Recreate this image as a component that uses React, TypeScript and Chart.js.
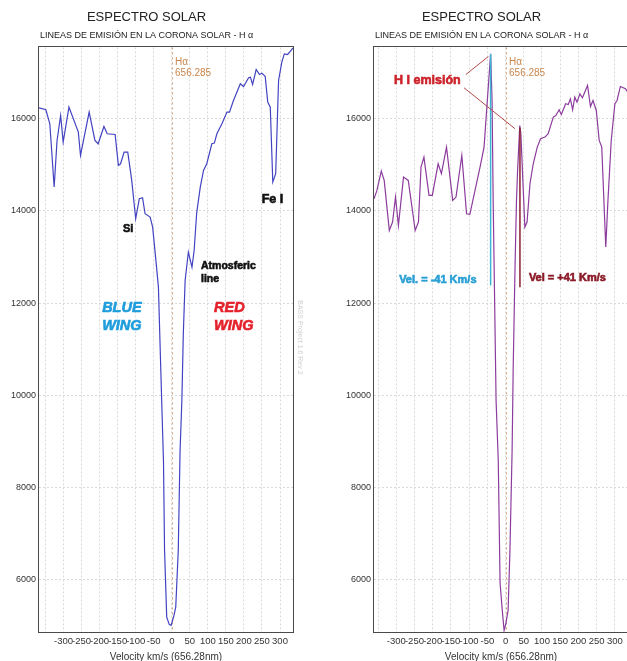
import React, { useEffect, useRef } from "react";
import { Chart, registerables } from "chart.js";

Chart.register(...registerables);

const F = "'Liberation Sans', Arial, sans-serif";

// ---- Data: left panel (solar spectrum, H-alpha absorption) ----
const leftVelocity = [
  -368, -349, -338, -326, -318, -308, -301, -285, -259, -253, -229, -213, -204, -188, -179, -157,
  -148, -142, -132, -122, -111, -100, -90, -81, -74, -60, -53, -44, -37, -28, -23, -20, -14, -7, -2,
  5, 11, 18, 23, 28, 32, 37, 46, 56, 62, 69, 79, 88, 97, 111, 118, 125, 139, 153, 160, 171, 190, 199,
  213, 218, 224, 234, 243, 250, 259, 266, 273, 280, 288, 296, 305, 312, 321, 329, 336,
];
const leftIntensity = [
  16231, 16188, 15884, 14513, 15523, 16065, 15487, 16245, 15704, 15199, 16137, 15523, 15451, 15827,
  15668, 15653, 14982, 15018, 15271, 15271, 14657, 13827, 14260, 14282, 13935, 13862, 13645, 12923,
  12344, 9889, 8589, 6638, 5193, 5035, 5013, 5193, 5410, 6638, 8806, 9889, 11336, 12489, 13103, 12778,
  13139, 13950, 14513, 14874, 15018, 15451, 15466, 15668, 15884, 16137, 16137, 16390, 16751, 16693,
  16881, 16895, 16736, 17061, 16953, 16982, 16910, 16354, 16245, 14621, 14802, 16823, 17220, 17400,
  17386, 17458, 17531,
];

// ---- Data: right panel (corona, H I emission) ----
const rightVelocity = [
  -361, -353, -341, -333, -319, -310, -302, -294, -280, -267, -248, -239, -232, -224, -210, -201,
  -185, -176, -162, -145, -136, -120, -107, -98, -70, -59, -41, -37, -34, -26, -20, -15, -9, -4, 1, 7,
  12, 18, 21, 26, 30, 33, 39, 42, 53, 59, 67, 76, 87, 96, 108, 117, 131, 138, 147, 153, 165, 172, 178,
  184, 190, 196, 204, 211, 225, 233, 240, 249, 257, 264, 275, 281, 290, 300, 306, 315, 329, 336,
];
const rightIntensity = [
  14260, 14441, 14859, 14657, 13574, 13755, 14296, 13682, 14729, 14657, 13574, 13755, 14946, 15163,
  14332, 14332, 15018, 14802, 15379, 14224, 14296, 15199, 13935, 13921, 14946, 15379, 17401, 16390,
  14223, 9889, 8589, 5928, 5338, 4905, 5057, 5338, 6638, 8806, 10611, 12778, 14223, 14874, 15848,
  15668, 13646, 13755, 14585, 15018, 15379, 15560, 15596, 15668, 16029, 16065, 16188, 16087, 16318,
  16303, 16426, 16188, 16462, 16354, 16534, 16448, 16715, 16260, 16390, 16173, 15523, 15379, 13212,
  14224, 15523, 16318, 16390, 16693, 16643, 16560,
];

// ---- Tick labels ----
const xTicks = [-350, -300, -250, -200, -150, -100, -50, 0, 50, 100, 150, 200, 250, 300];
const yTicks = [6000, 8000, 10000, 12000, 14000, 16000];

const TITLE = "ESPECTRO SOLAR";
const SUBTITLE = "LINEAS DE EMISIÓN EN LA CORONA SOLAR - H α";
const X_TITLE = "Velocity km/s (656.28nm)";
const WATERMARK = "BASS Project 1.6 Rev 2";

type Note = {
  text: string;
  x: number;
  y: number;
  color: string;
  font: string;
  align: CanvasTextAlign;
  heavy?: boolean;
};
type Seg = { x1: number; y1: number; x2: number; y2: number; color: string; width: number };

const HA = "#c9874b";

const leftNotes: Note[] = [
  { text: "Hα", x: 9, y: 17220, color: HA, font: `10px ${F}`, align: "left" },
  { text: "656.285", x: 9, y: 16986, color: HA, font: `10px ${F}`, align: "left" },
  { text: "Si", x: -121, y: 13595, color: "#111", font: `bold 11px ${F}`, align: "center", heavy: true },
  { text: "Fe I", x: 279, y: 14245, color: "#111", font: `bold 12.5px ${F}`, align: "center", heavy: true },
  { text: "Atmosferic", x: 81, y: 12793, color: "#111", font: `bold 10.5px ${F}`, align: "left", heavy: true },
  { text: "line", x: 81, y: 12511, color: "#111", font: `bold 10.5px ${F}`, align: "left", heavy: true },
  { text: "BLUE", x: -193, y: 11894, color: "#1f9ddc", font: `italic bold 14.5px ${F}`, align: "left", heavy: true },
  { text: "WING", x: -193, y: 11493, color: "#1f9ddc", font: `italic bold 14.5px ${F}`, align: "left", heavy: true },
  { text: "RED", x: 117, y: 11894, color: "#e4222c", font: `italic bold 14.5px ${F}`, align: "left", heavy: true },
  { text: "WING", x: 117, y: 11493, color: "#e4222c", font: `italic bold 14.5px ${F}`, align: "left", heavy: true },
];

const rightNotes: Note[] = [
  { text: "Hα", x: 9.5, y: 17220, color: HA, font: `10px ${F}`, align: "left" },
  { text: "656.285", x: 9.5, y: 16986, color: HA, font: `10px ${F}`, align: "left" },
  { text: "H I emisión", x: -306, y: 16823, color: "#cc2229", font: `bold 12.5px ${F}`, align: "left", heavy: true },
  { text: "Vel. = -41 Km/s", x: -292, y: 12490, color: "#2aa0d4", font: `bold 11px ${F}`, align: "left", heavy: true },
  { text: "Vel = +41 Km/s", x: 64, y: 12533, color: "#8b1a28", font: `bold 11px ${F}`, align: "left", heavy: true },
];

const rightSegs: Seg[] = [
  { x1: -41, y1: 17400, x2: -41, y2: 12381, color: "#3cb4d4", width: 1.5 },
  { x1: 39.5, y1: 15800, x2: 39.5, y2: 12344, color: "#8b2030", width: 1.5 },
  { x1: -109, y1: 16953, x2: -47, y2: 17343, color: "#b04a4a", width: 1 },
  { x1: -114, y1: 16665, x2: 26, y2: 15777, color: "#b04a4a", width: 1 },
];

function makeDecor(notes: Note[], segs: Seg[], watermark: boolean) {
  return {
    id: "decor",
    beforeDatasetsDraw(chart: any) {
      const { ctx, chartArea, scales } = chart;
      const x0 = Math.round(scales.x.getPixelForValue(0)) + 0.5;
      ctx.save();
      ctx.strokeStyle = "#d4a27a";
      ctx.lineWidth = 1;
      ctx.setLineDash([2, 3]);
      ctx.beginPath();
      ctx.moveTo(x0, chartArea.top);
      ctx.lineTo(x0, chartArea.bottom);
      ctx.stroke();
      ctx.restore();
    },
    afterDatasetsDraw(chart: any) {
      const { ctx, chartArea, scales } = chart;
      ctx.save();
      for (const s of segs) {
        ctx.strokeStyle = s.color;
        ctx.lineWidth = s.width;
        ctx.beginPath();
        ctx.moveTo(scales.x.getPixelForValue(s.x1), scales.y.getPixelForValue(s.y1));
        ctx.lineTo(scales.x.getPixelForValue(s.x2), scales.y.getPixelForValue(s.y2));
        ctx.stroke();
      }
      ctx.textBaseline = "middle";
      for (const n of notes) {
        ctx.font = n.font;
        ctx.fillStyle = n.color;
        ctx.textAlign = n.align;
        const px = scales.x.getPixelForValue(n.x);
        const py = scales.y.getPixelForValue(n.y);
        ctx.fillText(n.text, px, py);
        if (n.heavy) {
          ctx.strokeStyle = n.color;
          ctx.lineWidth = 0.6;
          ctx.strokeText(n.text, px, py);
        }
      }
      // frame
      ctx.strokeStyle = "#4a4a4a";
      ctx.lineWidth = 1;
      ctx.strokeRect(
        Math.round(chartArea.left) - 0.5,
        Math.round(chartArea.top) - 0.5,
        Math.round(chartArea.right - chartArea.left) + 1,
        Math.round(chartArea.bottom - chartArea.top) + 1
      );
      if (watermark) {
        ctx.save();
        ctx.translate(chartArea.right + 7, scales.y.getPixelForValue(11254));
        ctx.rotate(Math.PI / 2);
        ctx.font = `7px ${F}`;
        ctx.fillStyle = "#cfcfcf";
        ctx.textAlign = "center";
        ctx.fillText(WATERMARK, 0, 0);
        ctx.restore();
      }
      ctx.restore();
    },
  };
}

function makeConfig(
  velocity: number[],
  intensity: number[],
  color: string,
  xMin: number,
  xMax: number,
  decor: any
): any {
  return {
    type: "line",
    data: {
      datasets: [
        {
          data: velocity.map((v, i) => ({ x: v, y: intensity[i] })),
          borderColor: color,
          borderWidth: 1.2,
          pointRadius: 0,
          tension: 0,
          fill: false,
        },
      ],
    },
    options: {
      animation: false,
      responsive: false,
      maintainAspectRatio: false,
      events: [],
      layout: { padding: { left: 0, right: 13, top: 0, bottom: 0 } },
      plugins: {
        legend: { display: false },
        tooltip: { enabled: false },
        title: {
          display: true,
          text: TITLE,
          color: "#222",
          font: { family: F, size: 13, weight: "normal" },
          padding: { top: 10, bottom: 2 },
        },
        subtitle: {
          display: true,
          text: SUBTITLE,
          color: "#222",
          font: { family: F, size: 9, weight: "normal" },
          padding: { top: 3, bottom: 6 },
        },
      },
      scales: {
        x: {
          type: "linear",
          min: xMin,
          max: xMax,
          afterBuildTicks: (axis: any) => {
            axis.ticks = xTicks.map((v) => ({ value: v }));
          },
          afterFit: (axis: any) => {
            axis.height = 32;
          },
          grid: { color: "#d9d9d9", lineWidth: 1, drawTicks: false },
          border: { display: false, dash: [2, 2] },
          ticks: {
            autoSkip: false,
            maxRotation: 0,
            padding: 4,
            color: "#333",
            font: { family: F, size: 9.5 },
            callback: (v: any) => (v === -350 ? "" : String(v)),
          },
          title: {
            display: true,
            text: X_TITLE,
            color: "#333",
            font: { family: F, size: 10 },
            padding: { top: 0, bottom: 1 },
          },
        },
        y: {
          min: 4870,
          max: 17540,
          afterBuildTicks: (axis: any) => {
            axis.ticks = yTicks.map((v) => ({ value: v }));
          },
          afterFit: (axis: any) => {
            axis.width = 39;
          },
          grid: { color: "#d9d9d9", lineWidth: 1, drawTicks: false },
          border: { display: false, dash: [2, 2] },
          ticks: {
            padding: 3,
            color: "#333",
            font: { family: F, size: 9 },
            callback: (v: any) => String(v),
          },
        },
      },
    },
    plugins: [decor],
  };
}

export default function App() {
  const leftRef = useRef<HTMLCanvasElement>(null);
  const rightRef = useRef<HTMLCanvasElement>(null);

  useEffect(() => {
    const left = new Chart(
      leftRef.current as HTMLCanvasElement,
      makeConfig(leftVelocity, leftIntensity, "#4343c2", -368, 336, makeDecor(leftNotes, [], true))
    );
    const right = new Chart(
      rightRef.current as HTMLCanvasElement,
      makeConfig(rightVelocity, rightIntensity, "#8c3c9c", -361, 336, makeDecor(rightNotes, rightSegs, false))
    );
    return () => {
      left.destroy();
      right.destroy();
    };
  }, []);

  return (
    <div
      style={{
        position: "fixed",
        left: 0,
        top: 0,
        width: 627,
        height: 661,
        overflow: "hidden",
        background: "#fff",
      }}
    >
      <div style={{ position: "absolute", left: 0, top: 0 }}>
        <canvas ref={leftRef} width={306} height={664} style={{ display: "block", width: 306, height: 664 }} />
      </div>
      <div style={{ position: "absolute", left: 335, top: 0 }}>
        <canvas ref={rightRef} width={306} height={664} style={{ display: "block", width: 306, height: 664 }} />
      </div>
    </div>
  );
}
